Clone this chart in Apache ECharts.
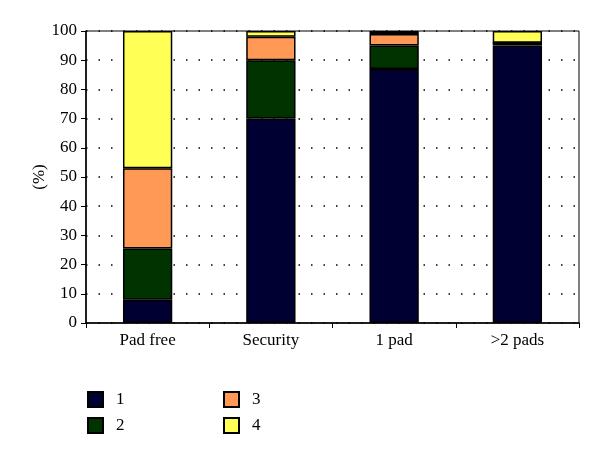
<!DOCTYPE html>
<html>
<head>
<meta charset="utf-8">
<script src="https://cdn.jsdelivr.net/npm/echarts@6/dist/echarts.min.js"></script>
<style>
  html, body { margin: 0; padding: 0; background: #fff; }
  #chart { width: 600px; height: 458px; }
</style>
</head>
<body>
<div id="chart"></div>
<script>
// categories and stacked percentages
var categories = ['Pad free', 'Security', '1 pad', '>2 pads'];
var s1 = [8, 70, 87, 95];
var s2 = [17.5, 20, 8, 1];
var s3 = [27.5, 8, 4, 0];
var s4 = [47, 2, 1, 4];
var yTicks = [0, 10, 20, 30, 40, 50, 60, 70, 80, 90, 100];

var names = ['1', '2', '3', '4'];
var colors = ['#000033', '#003300', '#FF9955', '#FFFF55'];
var values = [s1, s2, s3, s4];

var font = 'Liberation Serif';

var chart = echarts.init(document.getElementById('chart'));

var series = names.map(function (n, i) {
    return {
        name: n,
        type: 'bar',
        stack: 'all',
        barWidth: '40%',
        data: values[i],
        itemStyle: {
            color: colors[i],
            borderColor: '#000',
            borderWidth: 1.5
        }
    };
});

var legendStyle = {
    orient: 'vertical',
    top: 386,
    itemWidth: 15,
    itemHeight: 15,
    itemGap: 9,
    icon: 'rect',
    textStyle: { fontFamily: font, fontSize: 17, color: '#000', padding: [0, 0, 0, 8] }
};

var option = {
    animation: false,
    grid: {
        left: 86, right: 21, top: 31, bottom: 135,
        show: true,
        borderColor: '#000',
        borderWidth: 1
    },
    legend: [
        Object.assign({ left: 82, data: ['1', '2'] }, legendStyle),
        Object.assign({ left: 218, data: ['3', '4'] }, legendStyle)
    ],
    xAxis: {
        type: 'category',
        data: categories,
        axisLine: { lineStyle: { color: '#000', width: 1.5 } },
        axisTick: { show: true, length: 5, lineStyle: { color: '#000' } },
        axisLabel: { fontFamily: font, fontSize: 17, color: '#000', margin: 9 }
    },
    yAxis: {
        type: 'value',
        min: yTicks[0],
        max: yTicks[yTicks.length - 1],
        interval: 10,
        name: '(%)',
        nameLocation: 'middle',
        nameRotate: 90,
        nameGap: 38,
        nameMoveOverlap: false,
        nameTextStyle: { fontFamily: font, fontSize: 17, color: '#000' },
        axisLine: { show: true, lineStyle: { color: '#000', width: 1.5 } },
        axisTick: { show: true, length: 5, lineStyle: { color: '#000' } },
        axisLabel: { fontFamily: font, fontSize: 17, color: '#000', margin: 9 },
        splitLine: {
            show: true,
            lineStyle: { color: '#000', type: [1.5, 11], width: 1.5 }
        }
    },
    series: series
};

chart.setOption(option);
</script>
</body>
</html>
